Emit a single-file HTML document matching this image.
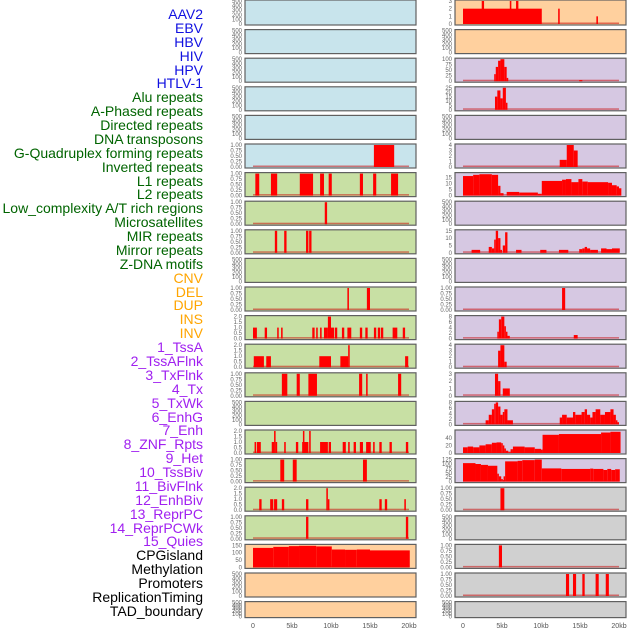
<!DOCTYPE html>
<html><head><meta charset="utf-8">
<style>
html,body{margin:0;padding:0;background:#fff;}
#wrap{position:relative;width:630px;height:630px;overflow:hidden;font-family:"Liberation Sans",sans-serif;}
.lab{position:absolute;right:427px;font-size:14px;line-height:14px;white-space:nowrap;}
svg{position:absolute;left:0;top:0;}
</style></head>
<body>
<div id="wrap">
<svg id="svg" width="630" height="630"></svg>
</div>
<script>
const trackLabels=["AAV2","EBV","HBV","HIV","HPV","HTLV-1","Alu repeats","A-Phased repeats","Directed repeats","DNA transposons","G-Quadruplex forming repeats","Inverted repeats","L1 repeats","L2 repeats","Low_complexity A/T rich regions","Microsatellites","MIR repeats","Mirror repeats","Z-DNA motifs","CNV","DEL","DUP","INS","INV","1_TssA","2_TssAFlnk","3_TxFlnk","4_Tx","5_TxWk","6_EnhG","7_Enh","8_ZNF_Rpts","9_Het","10_TssBiv","11_BivFlnk","12_EnhBiv","13_ReprPC","14_ReprPCWk","15_Quies","CPGisland","Methylation","Promoters","ReplicationTiming","TAD_boundary"];
const labelColors=["#1010e0","#1010e0","#1010e0","#1010e0","#1010e0","#1010e0","#006400","#006400","#006400","#006400","#006400","#006400","#006400","#006400","#006400","#006400","#006400","#006400","#006400","#ffa500","#ffa500","#ffa500","#ffa500","#ffa500","#a020f0","#a020f0","#a020f0","#a020f0","#a020f0","#a020f0","#a020f0","#a020f0","#a020f0","#a020f0","#a020f0","#a020f0","#a020f0","#a020f0","#a020f0","#000","#000","#000","#000","#000"];
const xTickLabels=["0","5kb","10kb","15kb","20kb"];
const xTickValues=[0,5,10,15,20];
// y max per panel row
const leftYmax=[500,500,500,500,500,1,1,1,1,500,1,2,2,1,500,2,1,2,1,150,500,500];
const rightYmax=[3,500,100,25,500,4,18,500,15,500,1,8,4,3,8,58,125,1,500,1,1,500];
const leftBg=["#c8e4ec","#c8e4ec","#c8e4ec","#c8e4ec","#c8e4ec","#c8e4ec","#c8e0a4","#c8e0a4","#c8e0a4","#c8e0a4","#c8e0a4","#c8e0a4","#c8e0a4","#c8e0a4","#c8e0a4","#c8e0a4","#c8e0a4","#c8e0a4","#c8e0a4","#ffd09e","#ffd09e","#ffd09e"];
const rightBg=["#ffd09e","#ffd09e","#d6c8e2","#d6c8e2","#d6c8e2","#d6c8e2","#d6c8e2","#d6c8e2","#d6c8e2","#d6c8e2","#d6c8e2","#d6c8e2","#d6c8e2","#d6c8e2","#d6c8e2","#d6c8e2","#d6c8e2","#d0d0d0","#d0d0d0","#d0d0d0","#d0d0d0","#d0d0d0"];
// bars [startKb,endKb,value]
const leftRow5=[[15.5,18.1,1]];
const leftRow6=[[0.3,0.8,1],[2.3,3.1,1],[6.0,7.7,1],[8.6,9.1,1],[9.7,10.1,1],[13.7,14.1,1],[15.4,15.8,1],[17.7,18.6,1]];
const leftRow7=[[9.2,9.5,1]];
const leftRow8=[[2.8,3.1,1],[4.0,4.3,1],[6.8,7.1,1],[7.2,7.5,1]];
const leftRow10=[[12.1,12.3,1],[14.6,15.0,1]];
const leftRow11=[[0,0.5,1],[1.5,1.8,1],[3.1,3.3,1],[3.6,3.8,1],[7.6,7.9,1],[8.1,8.3,1],[8.6,8.8,1],[9.1,9.6,1],[9.6,10.0,2],[10.0,10.4,1],[10.5,10.8,1],[11.4,11.7,1],[12.1,12.6,1],[13.7,14.0,1],[14.4,14.7,1],[15.5,15.8,1],[16.0,16.3,1],[16.4,16.7,1],[17.9,18.5,1],[19.2,19.5,1]];
const leftRow12=[[0.1,1.4,1],[1.7,2.3,1],[8.5,10.0,1],[11.2,12.2,1],[12.2,12.4,2],[19.5,19.9,1]];
const leftRow13=[[3.7,4.4,1],[5.6,6.0,1],[7.1,8.2,1],[13.6,14.0,1],[14.5,14.7,1],[18.6,19.0,1]];
const leftRow15=[[0.2,0.4,1],[0.5,1.0,1],[2.4,2.7,1],[2.7,2.9,2],[2.9,3.1,1],[4.0,4.2,1],[5.5,5.8,1],[6.3,6.4,1],[6.4,6.5,2],[6.5,7.1,1],[7.2,7.4,2],[8.6,9.6,1],[9.7,10.0,1],[11.5,11.9,1],[12.2,12.4,1],[12.9,13.2,1],[13.7,14.1,1],[14.5,15.1,1],[15.4,15.6,1],[16.2,16.5,1],[17.5,17.8,1],[19.6,19.9,1]];
const leftRow16=[[3.5,4.0,1],[5.1,5.6,1],[14.1,14.6,1]];
const leftRow17=[[0.8,1.1,1],[2.2,2.6,1],[2.7,3.1,1],[3.7,4.0,1],[6.8,7.1,1],[9.4,9.6,2],[9.6,9.8,1],[16.2,16.5,1],[16.9,17.2,1],[19.4,19.6,1]];
const leftRow18=[[6.8,7.1,1],[19.6,19.9,1]];
const leftRow19=[[0,2.6,133],[2.6,4.6,140],[4.6,5.9,145],[5.9,8.1,147],[8.1,10.1,143],[10.1,11.8,122],[11.8,13.3,120],[13.3,15.0,122],[15.0,20.1,116]];
const rightRow0=[[0,10.1,2],[2.4,2.7,3],[6.0,6.2,3],[6.8,7.1,3],[12.2,12.4,2],[17.1,17.3,1]];
const rightRow2=[[4.0,4.2,32],[4.2,4.5,65],[4.5,4.8,93],[4.8,5.3,100],[5.3,5.6,65],[5.6,5.8,15],[14.9,15.3,5]];
const rightRow3=[[4.1,4.4,15],[4.4,4.8,22],[4.8,5.1,13],[5.1,5.5,25],[5.5,5.7,8]];
const rightRow5=[[12.4,13.3,1.3],[13.3,14.2,4],[14.2,14.7,3]];
const rightRow6=[[0,1.3,16],[1.3,2.1,17],[2.1,3.7,17.5],[3.7,4.5,17],[4.5,4.8,8],[4.8,5.2,2],[5.6,7.2,3],[7.2,9.6,2.5],[9.6,10.1,1.5],[10.1,12.7,12],[12.7,13.2,13],[13.2,13.9,13.5],[13.9,14.8,11],[14.8,15.3,13.5],[15.3,16.0,11.5],[16.0,18.6,11],[18.6,19.1,10.5],[19.1,19.7,8.5],[19.7,20.0,7.5],[20.0,20.3,6]];
const rightRow8=[[1.1,2.2,2],[3.3,3.7,4],[3.7,4.0,3],[4.0,4.2,9],[4.2,4.5,15],[4.5,4.8,10],[4.8,5.0,2],[5.1,5.4,5],[5.4,5.7,14],[6.8,7.5,2],[9.9,10.7,2],[12.3,13.5,2],[14.9,15.3,2.5],[15.3,15.6,3],[15.6,15.9,4],[15.9,16.3,3],[16.3,17.3,2],[17.7,18.4,3],[18.4,19.1,2.5],[19.1,20.1,3]];
const rightRow10=[[12.7,13.1,1]];
const rightRow11=[[4.4,4.6,2.5],[4.6,4.9,7],[4.9,5.3,8],[5.3,5.5,4.5],[5.5,5.7,2.5],[5.7,6.0,1],[14.2,14.7,1.3]];
const rightRow12=[[4.5,4.8,3],[4.8,5.3,4],[5.3,5.6,1]];
const rightRow13=[[4.1,4.5,3],[4.5,4.8,2],[5.1,6.0,1]];
const rightRow14=[[2.9,3.3,1.5],[3.3,3.7,3.5],[3.7,4.0,5.5],[4.0,4.2,7.5],[4.2,4.5,8],[4.5,4.8,6.5],[4.8,5.1,3.5],[5.1,5.3,4.5],[5.3,5.7,5.5],[5.7,6.4,1.5],[12.4,12.7,2.5],[12.7,13.3,3.5],[13.3,14.1,2.5],[14.1,14.4,4.5],[14.4,15.2,3.5],[15.2,15.6,4.5],[15.6,15.9,5.5],[15.9,16.3,3.5],[16.3,16.6,2.5],[16.6,17.0,4.5],[17.0,17.6,5.5],[17.6,18.2,3.5],[18.2,18.9,4.5],[18.9,19.3,5.5],[19.3,19.6,3.5],[19.6,19.8,1.5],[19.8,20.0,0.8]];
const rightRow15=[[0,0.6,15],[0.6,1.3,17],[1.3,2.1,15],[2.1,2.9,20],[2.9,3.7,23],[3.7,4.3,27],[4.3,4.9,28],[4.9,5.1,26],[5.1,5.3,20],[5.3,5.5,12],[5.5,5.8,6],[5.8,6.1,2],[6.1,6.4,10],[6.4,7.9,17],[7.9,9.2,15],[9.2,10.0,11],[10.0,10.2,9],[10.2,12.3,48],[12.3,15.0,50],[15.0,17.7,50],[17.7,18.9,54],[18.9,20.2,56]];
const rightRow16=[[0,1.6,105],[1.6,2.3,100],[2.3,3.2,95],[3.2,4.4,90],[4.4,4.6,45],[4.6,4.9,30],[4.9,5.1,15],[5.1,5.2,8],[5.2,5.4,30],[5.4,7.0,115],[7.0,7.6,118],[7.6,9.2,122],[9.2,10.1,125],[10.1,12.6,75],[12.6,16.3,72],[16.3,16.7,74],[16.7,18.0,72],[18.0,18.5,66],[18.5,19.0,72],[19.0,19.5,66],[19.5,20.1,70]];
const rightRow17=[[4.8,5.3,1]];
const rightRow19=[[4.6,5.0,1]];
const rightRow20=[[13.2,13.6,1],[14.1,14.5,1],[15.3,15.6,1],[17.0,17.4,1],[18.3,18.7,1]];

const leftBars={5:leftRow5,6:leftRow6,7:leftRow7,8:leftRow8,10:leftRow10,11:leftRow11,12:leftRow12,13:leftRow13,15:leftRow15,16:leftRow16,17:leftRow17,18:leftRow18,19:leftRow19};
const rightBars={0:rightRow0,2:rightRow2,3:rightRow3,5:rightRow5,6:rightRow6,8:rightRow8,10:rightRow10,11:rightRow11,12:rightRow12,13:rightRow13,14:rightRow14,15:rightRow15,16:rightRow16,17:rightRow17,19:rightRow19,20:rightRow20};

const NS="http://www.w3.org/2000/svg";
const svg=document.getElementById('svg');
function mk(tag,attrs,parent){const e=document.createElementNS(NS,tag);for(const k in attrs)e.setAttribute(k,attrs[k]);(parent||svg).appendChild(e);return e;}
function tickSet(ymax){
  if(ymax===500)return[0,100,200,300,400,500];
  if(ymax===1)return[0,0.25,0.5,0.75,1];
  if(ymax===2)return[0,0.5,1,1.5,2];
  if(ymax===150)return[0,50,100,150];
  if(ymax===3)return[0,1,2,3];
  if(ymax===4)return[0,1,2,3,4];
  if(ymax===100)return[0,25,50,75,100];
  if(ymax===25)return[0,5,10,15,20,25];
  if(ymax===18)return[0,5,10,15];
  if(ymax===15)return[0,5,10,15];
  if(ymax===8)return[0,2,4,6,8];
  if(ymax===58)return[0,20,40];
  if(ymax===125)return[0,25,50,75,100,125];
  return[0,ymax];
}
function fmt(v,ymax){if(ymax===1)return v.toFixed(2);if(ymax===2)return v.toFixed(1);return String(v);}
const cols=[{x0:245,w:171,dx0:253,dx1:409,ym:leftYmax,bg:leftBg,bars:leftBars,side:'left'},{x0:455,w:171,dx0:463,dx1:619,ym:rightYmax,bg:rightBg,bars:rightBars,side:'right'}];
for(const c of cols){
  const xs=kb=>c.dx0+(kb/20)*(c.dx1-c.dx0);
  for(let i=0;i<22;i++){
    const top=i===0?0:1+i*28.6;
    const h=i===21?16:(i===0?25:24);
    const g=mk('g',{});
    
    
    const r=mk('rect',{x:c.x0,y:top,width:c.w,height:h,fill:c.bg[i],stroke:'#606060','stroke-width':1.2},g);
    
    
    const ymax=c.ym[i];
    const y0=top+h-1, plotH=h-2;
    const ys=v=>y0-(v/ymax)*plotH;
    for(const t of tickSet(ymax)){
      const tx=mk('text',{x:c.x0-3,y:ys(t)+2,'font-size':6,'text-anchor':'end',fill:'#666'},g);
      tx.textContent=fmt(t,ymax);
      
      
    }
    const data=c.bars[i];
    if(data){
      const bl=mk('rect',{x:xs(0),y:y0-1.5,width:xs(20)-xs(0),height:1.5,fill:'rgba(200,0,0,0.5)'},g);
      
      
      for(const b of data){
        const bx=xs(b[0]),bw=Math.max(1.5,xs(b[1])-xs(b[0]));
        const yt=ys(b[2]);
        const br=mk('rect',{x:bx,y:yt,width:bw,height:y0-yt,fill:'#ff0000'},g);
        
        
      }
    }
  }
  for(let k=0;k<xTickValues.length;k++){
    const t=mk('text',{x:xs(xTickValues[k]),y:628,'font-size':7,'text-anchor':'middle',fill:'#555'});
    t.textContent=xTickLabels[k];
    
    
  }
}
const wrap=document.getElementById('wrap');
for(let k=0;k<trackLabels.length;k++){
  const d=document.createElement('div');
  d.className='lab';
  d.style.top=(7+k*13.88)+'px';
  d.style.color=labelColors[k];
  d.textContent=trackLabels[k];
  
  
  wrap.appendChild(d);
}
</script>
</body></html>
